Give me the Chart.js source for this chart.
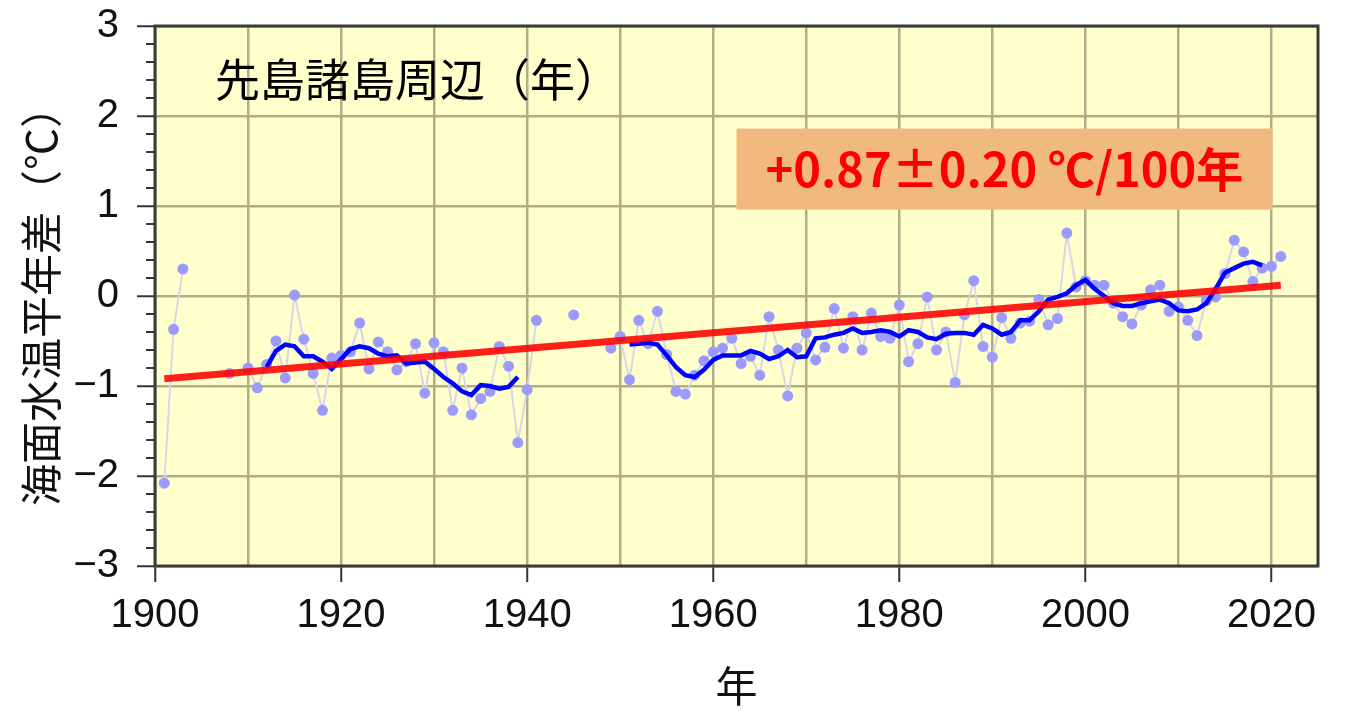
<!DOCTYPE html>
<html>
<head>
<meta charset="utf-8">
<script src="https://cdn.jsdelivr.net/npm/chart.js@4"></script>
<style>
	body { margin: 0; background: #ffffff; }
	#wrap { width: 1346px; height: 711px; }
</style>
</head>
<body>
<div id="wrap"><canvas id="sst" width="1346" height="711"></canvas></div>
<script>
(function(){
	"use strict";

	// 年 (1901-2021)
	var years = [];
	for ( var y = 1901; y <= 2021; y++ ) years.push(y);

	// 平年差 (℃), null = 欠測
	var annual = [
		-2.08, -0.37, 0.30, null, null, null, null, -0.86, null, -0.80,
		-1.02, -0.76, -0.50, -0.91, 0.01, -0.48, -0.86, -1.27, -0.69, -0.66,
		-0.62, -0.30, -0.81, -0.51, -0.62, -0.82, -0.73, -0.53, -1.08, -0.52,
		-0.62, -1.27, -0.80, -1.32, -1.14, -1.06, -0.56, -0.78, -1.63, -1.04,
		-0.27, null, null, null, -0.21, null, null, null, -0.58, -0.45,
		-0.93, -0.27, -0.53, -0.17, -0.65, -1.06, -1.09, -0.88, -0.72, -0.62,
		-0.58, -0.47, -0.75, -0.67, -0.88, -0.23, -0.60, -1.11, -0.58, -0.41,
		-0.71, -0.57, -0.14, -0.58, -0.23, -0.60, -0.19, -0.45, -0.47, -0.10,
		-0.73, -0.53, -0.01, -0.60, -0.40, -0.96, -0.21, 0.17, -0.56, -0.68,
		-0.24, -0.47, -0.30, -0.28, -0.04, -0.32, -0.25, 0.70, 0.10, 0.17,
		0.12, 0.12, -0.08, -0.23, -0.31, -0.10, 0.07, 0.12, -0.17, -0.12,
		-0.27, -0.44, -0.05, -0.01, 0.25, 0.62, 0.49, 0.16, 0.31, 0.33,
		0.44
	];

	// 5年移動平均
	var mean5 = [
		null, null, null, null, null, null, null, null, null, null,
		null, -0.79, -0.61, -0.54, -0.56, -0.67, -0.67, -0.73, -0.81, -0.70,
		-0.59, -0.56, -0.58, -0.64, -0.67, -0.66, -0.75, -0.74, -0.73, -0.81,
		-0.90, -0.97, -1.06, -1.10, -0.99, -1.00, -1.03, -1.01, -0.90, null,
		null, null, null, null, null, null, null, null, null, null,
		-0.54, -0.53, -0.52, -0.54, -0.66, -0.79, -0.88, -0.90, -0.82, -0.71,
		-0.66, -0.66, -0.66, -0.61, -0.64, -0.70, -0.67, -0.60, -0.68, -0.67,
		-0.47, -0.46, -0.43, -0.41, -0.36, -0.41, -0.40, -0.38, -0.40, -0.45,
		-0.38, -0.40, -0.46, -0.48, -0.42, -0.41, -0.41, -0.43, -0.32, -0.36,
		-0.43, -0.40, -0.27, -0.27, -0.17, -0.04, -0.01, 0.03, 0.12, 0.18,
		0.08, 0.00, -0.08, -0.11, -0.11, -0.08, -0.06, -0.04, -0.08, -0.16,
		-0.17, -0.15, -0.08, 0.08, 0.26, 0.31, 0.36, 0.38, 0.34, null,
		null
	];

	// 長期変化傾向
	var trendYears = [1901, 2021];
	var trendValues = [-0.92, 0.12];

	var yTicks = [3, 2, 1, 0, -1, -2, -3];
	var xGrid = [1900, 1910, 1920, 1930, 1940, 1950, 1960, 1970, 1980, 1990, 2000, 2010, 2020];
	var xTickLabels = [1900, 1920, 1940, 1960, 1980, 2000, 2020];

	var titleText = '先島諸島周辺（年）';
	var trendText = '+0.87±0.20 ℃/100年';

	function pts( xs, vs ) {
		var out = [];
		for ( var i = 0; i < xs.length; i++ ) out.push({ x: xs[i], y: vs[i] });
		return out;
	}

	var tickFont = { family: "'Liberation Sans', Arial, sans-serif", size: 40 };
	var jpFont = "'Noto Sans CJK JP', sans-serif";
	var gridColor = '#b0ad88';

	const plugin = {
		id: 'sst_decor',
		beforeDraw: (chart) => {
			const ctx = chart.ctx;
			const a = chart.chartArea;
			ctx.save();
			ctx.fillStyle = '#ffffcc';
			ctx.fillRect(a.left, a.top, a.right - a.left, a.bottom - a.top);
			ctx.restore();
		},
		afterDraw: (chart) => {
			const ctx = chart.ctx;
			const a = chart.chartArea;
			const xs = chart.scales.x, ys = chart.scales.y;
			ctx.save();
			// minor ticks
			ctx.strokeStyle = '#333333';
			ctx.lineWidth = 2;
			for ( var k = -15; k <= 15; k++ ) {
				if ( k % 5 === 0 ) continue;
				var py = Math.round(ys.getPixelForValue(k / 5));
				ctx.beginPath();
				ctx.moveTo(a.left - 9, py);
				ctx.lineTo(a.left, py);
				ctx.stroke();
			}
			// frame
			ctx.strokeStyle = '#3a3a3a';
			ctx.lineWidth = 3;
			ctx.strokeRect(a.left, a.top, a.right - a.left, a.bottom - a.top);

			// title
			ctx.fillStyle = '#000000';
			ctx.font = '45px ' + jpFont;
			ctx.textBaseline = 'middle';
			ctx.textAlign = 'left';
			ctx.fillText(titleText, a.left + 60, ys.getPixelForValue(2.4));

			// trend box
			var bx0 = xs.getPixelForValue(1962.5), bx1 = xs.getPixelForValue(2020.1);
			var by0 = ys.getPixelForValue(1.86), by1 = ys.getPixelForValue(0.96);
			ctx.fillStyle = '#f1b97d';
			ctx.fillRect(bx0, by0, bx1 - bx0, by1 - by0);
			ctx.fillStyle = '#ff0000';
			ctx.font = 'bold 47px ' + jpFont;
			ctx.textAlign = 'center';
			ctx.fillText(trendText, (bx0 + bx1) / 2, (by0 + by1) / 2);
			ctx.restore();
		}
	};

	var ctx = document.getElementById('sst').getContext('2d');
	new Chart(ctx, {
		type: 'line',
		data: {
			datasets: [{
				label: 'trend',
				data: pts(trendYears, trendValues),
				borderColor: 'rgba(255, 0, 0, 0.88)',
				borderWidth: 7,
				pointRadius: 0,
				order: 0
			}, {
				label: 'mean5',
				data: pts(years, mean5),
				borderColor: '#0000ff',
				borderWidth: 4.5,
				pointRadius: 0,
				spanGaps: false,
				order: 1
			}, {
				label: 'annual',
				data: pts(years, annual),
				borderColor: '#d6d6e6',
				borderWidth: 2,
				pointRadius: 5.5,
				pointBackgroundColor: '#9a9aff',
				pointBorderWidth: 0,
				spanGaps: false,
				order: 2
			}]
		},
		options: {
			responsive: false,
			animation: false,
			events: [],
			layout: { padding: { top: 26, right: 28, left: 0, bottom: 0 } },
			plugins: {
				legend: { display: false },
				tooltip: { enabled: false }
			},
			scales: {
				x: {
					type: 'linear',
					min: 1900,
					max: 2025,
					afterFit: function(scale){
						scale.height = 145;
						scale.paddingLeft = 0;
						scale.paddingRight = 0;
					},
					afterBuildTicks: function(scale){
						scale.ticks = xGrid.map(function(v){ return { value: v }; });
					},
					grid: {
						color: gridColor,
						lineWidth: 2.5,
						tickLength: 16,
						tickWidth: 2,
						tickColor: function(c){
							return xTickLabels.indexOf(c.tick.value) >= 0 ? '#333333' : 'rgba(0,0,0,0)';
						}
					},
					border: { display: false },
					ticks: {
						maxRotation: 0,
						autoSkip: false,
						color: '#111111',
						font: tickFont,
						padding: 10,
						callback: function(v){ return xTickLabels.indexOf(v) >= 0 ? String(v) : ''; }
					},
					title: {
						display: true,
						text: '年',
						color: '#111111',
						font: { family: jpFont, size: 42 },
						padding: { top: 0, bottom: 0 }
					}
				},
				y: {
					min: -3,
					max: 3,
					afterFit: function(scale){
						scale.width = 155;
						scale.paddingTop = 0;
						scale.paddingBottom = 0;
					},
					grid: {
						color: gridColor,
						lineWidth: 2.5,
						tickLength: 18,
						tickWidth: 2,
						tickColor: '#333333'
					},
					border: { display: false },
					ticks: {
						stepSize: 1,
						color: '#111111',
						font: tickFont,
						padding: 18,
						callback: function(v){
							if ( yTicks.indexOf(v) < 0 ) return '';
							return v < 0 ? '\u2212' + Math.abs(v) : String(v);
						}
					},
					title: {
						display: true,
						text: '海面水温平年差（℃）',
						color: '#111111',
						font: { family: jpFont, size: 42 },
						padding: { top: 16, bottom: 0 }
					}
				}
			}
		},
		plugins: [plugin]
	});
})();
</script>
</body>
</html>
